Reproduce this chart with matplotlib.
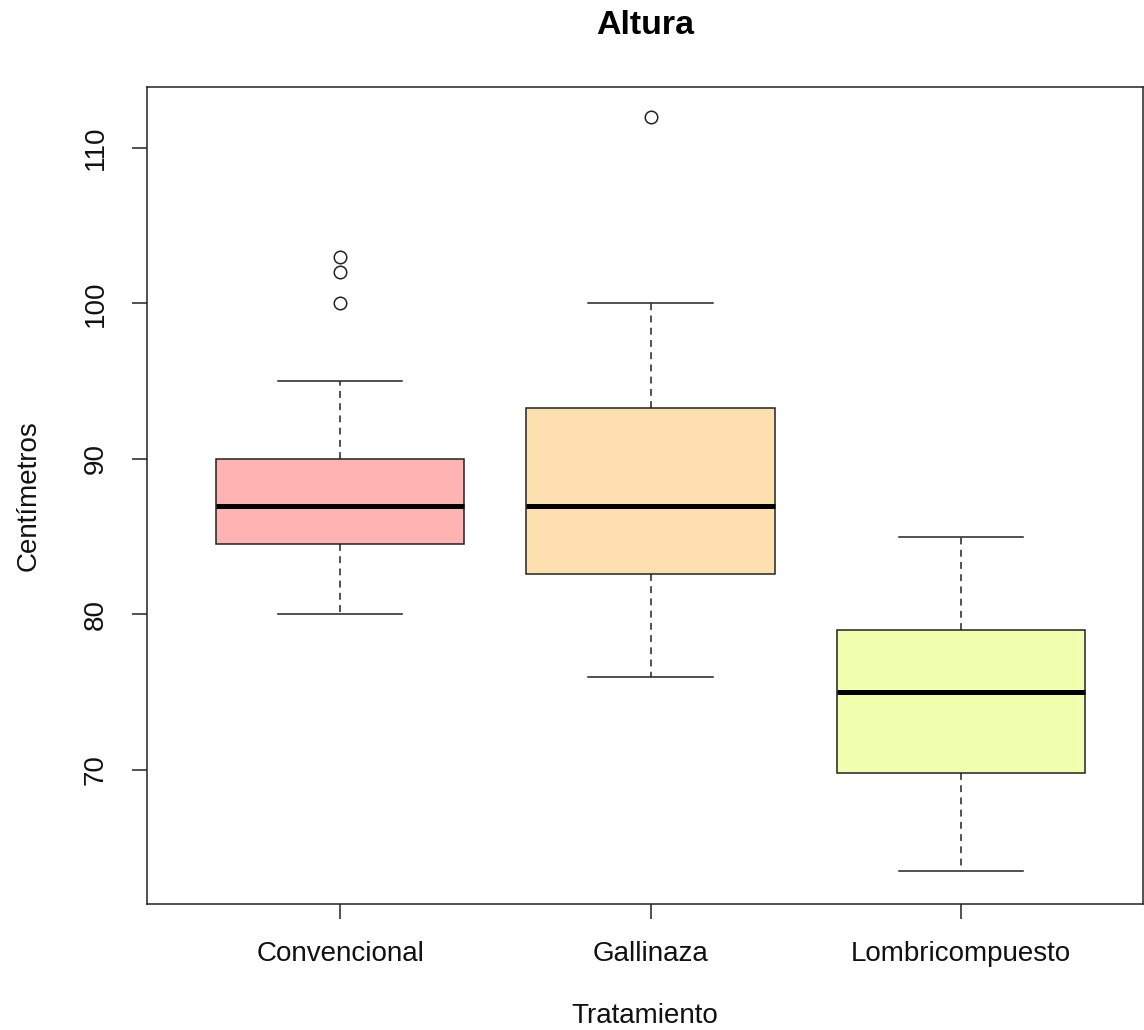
import matplotlib
matplotlib.use("Agg")
import matplotlib.pyplot as plt

plt.rcParams['font.family'] = ['Liberation Sans', 'DejaVu Sans']

categories = ["Convencional", "Gallinaza", "Lombricompuesto"]
whislo = [80.0, 76.0, 63.5]
q1 = [84.5, 82.6, 69.8]
med = [87.0, 87.0, 75.0]
q3 = [90.0, 93.3, 79.0]
whishi = [95.0, 100.0, 85.0]
fliers = [[100.0, 102.0, 103.0], [112.0], []]
colors = ["#FFB3B3", "#FDDFB0", "#EFFFAE"]
yticks = [70, 80, 90, 100, 110]

stats = []
for i, c in enumerate(categories):
    stats.append(dict(label=c, whislo=whislo[i], q1=q1[i], med=med[i],
                      q3=q3[i], whishi=whishi[i], fliers=fliers[i]))

fig = plt.figure(figsize=(11.44, 10.30), dpi=100)
ax = fig.add_axes([147/1144, (1030-904)/1030, (1143-147)/1144, (904-87)/1030])

bp = ax.bxp(stats, positions=[1, 2, 3], widths=0.8, patch_artist=True,
            boxprops=dict(edgecolor='#222222', linewidth=1.1),
            medianprops=dict(color='black', linewidth=3.6, solid_capstyle='butt'),
            whiskerprops=dict(color='#222222', linewidth=1.1, linestyle=(0, (4.5, 3.5))),
            capprops=dict(color='#222222', linewidth=1.1),
            flierprops=dict(marker='o', markerfacecolor='none', markeredgecolor='#222222',
                            markersize=9, markeredgewidth=1.1, linestyle='none'))
for patch, col in zip(bp['boxes'], colors):
    patch.set_facecolor(col)

ax.set_xlim(0.378, 3.586)
ax.set_ylim(61.38, 113.92)
ax.set_yticks(yticks)
ax.set_yticklabels([str(t) for t in yticks], rotation=90, va='center')
ax.set_xticks([1, 2, 3])
ax.set_xticklabels(categories)

for s in ax.spines.values():
    s.set_linewidth(1.1)
    s.set_color('#222222')

ax.tick_params(axis='both', length=10.5, width=1.1, color='#222222',
               labelsize=20, labelcolor='#111111')
ax.tick_params(axis='x', pad=16)
ax.tick_params(axis='y', pad=17)

ax.set_xlabel("Tratamiento", fontsize=20, labelpad=26, color='#111111')
ax.set_ylabel("Centímetros", fontsize=20, labelpad=30, color='#111111')
fig.text(645/1144, 1 - 26/1030, "Altura", ha='center', va='center',
         fontsize=24.5, fontweight='bold')

fig.savefig("out.png", dpi=100, facecolor='white')
